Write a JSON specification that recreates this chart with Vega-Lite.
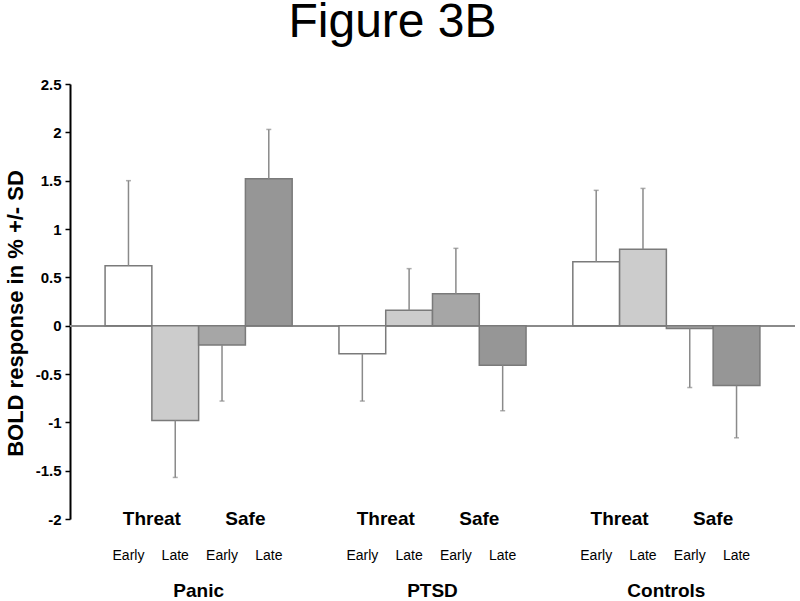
{
  "$schema": "https://vega.github.io/schema/vega-lite/v6.json",
  "autosize": {"type": "none"},
  "width": 725,
  "height": 435,
  "padding": {"left": 70, "top": 84, "right": 5, "bottom": 82},
  "background": "white",
  "config": {
    "view": {"stroke": null},
    "font": "Liberation Sans"
  },
  "title": {
    "text": "Figure 3B",
    "fontSize": 48,
    "font": "Liberation Sans",
    "fontWeight": "normal",
    "color": "black",
    "anchor": "middle",
    "frame": "group",
    "dx": -40,
    "offset": -8,
    "baseline": "alphabetic"
  },
  "datasets": {
    "bars": [
      {"group": "Panic", "cond": "Threat Early", "stim": "Threat", "phase": "Early", "value": 0.62, "errEnd": 1.5},
      {"group": "Panic", "cond": "Threat Late", "stim": "Threat", "phase": "Late", "value": -0.98, "errEnd": -1.57},
      {"group": "Panic", "cond": "Safe Early", "stim": "Safe", "phase": "Early", "value": -0.2, "errEnd": -0.78},
      {"group": "Panic", "cond": "Safe Late", "stim": "Safe", "phase": "Late", "value": 1.52, "errEnd": 2.03},
      {"group": "PTSD", "cond": "Threat Early", "stim": "Threat", "phase": "Early", "value": -0.29, "errEnd": -0.78},
      {"group": "PTSD", "cond": "Threat Late", "stim": "Threat", "phase": "Late", "value": 0.16, "errEnd": 0.59},
      {"group": "PTSD", "cond": "Safe Early", "stim": "Safe", "phase": "Early", "value": 0.33, "errEnd": 0.8},
      {"group": "PTSD", "cond": "Safe Late", "stim": "Safe", "phase": "Late", "value": -0.41, "errEnd": -0.88},
      {"group": "Controls", "cond": "Threat Early", "stim": "Threat", "phase": "Early", "value": 0.66, "errEnd": 1.4},
      {"group": "Controls", "cond": "Threat Late", "stim": "Threat", "phase": "Late", "value": 0.79, "errEnd": 1.42},
      {"group": "Controls", "cond": "Safe Early", "stim": "Safe", "phase": "Early", "value": -0.03, "errEnd": -0.64},
      {"group": "Controls", "cond": "Safe Late", "stim": "Safe", "phase": "Late", "value": -0.62, "errEnd": -1.16}
    ]
  },
  "data": {"name": "bars"},
  "encoding": {
    "x": {
      "field": "group", "type": "nominal",
      "sort": ["Panic", "PTSD", "Controls"],
      "scale": {"paddingInner": 0.2, "paddingOuter": 0.15},
      "axis": {
        "title": null, "domain": false, "ticks": false,
        "labelAngle": 0, "labelFontSize": 19, "labelFontWeight": "bold",
        "labelColor": "black", "labelPadding": 62, "labelFont": "Liberation Sans"
      }
    },
    "xOffset": {
      "field": "cond", "type": "nominal",
      "sort": ["Threat Early", "Threat Late", "Safe Early", "Safe Late"],
      "scale": {"paddingInner": 0, "paddingOuter": 0}
    }
  },
  "layer": [
    {
      "mark": {"type": "rule", "color": "#8a8a8a", "strokeWidth": 1.5},
      "encoding": {"x": null, "xOffset": null, "y": {"datum": 0, "type": "quantitative"}}
    },
    {
      "mark": {"type": "bar", "stroke": "#7a7a7a", "strokeWidth": 1.5},
      "encoding": {
        "y": {
          "field": "value", "type": "quantitative",
          "scale": {"domain": [-2, 2.5], "nice": false, "zero": false},
          "axis": {
            "title": "BOLD response in % +/- SD",
            "values": [-2, -1.5, -1, -0.5, 0, 0.5, 1, 1.5, 2, 2.5],
            "labelExpr": "'' + datum.value",
            "grid": false,
            "domainColor": "black", "domainWidth": 2,
            "tickColor": "black", "tickWidth": 1.5, "tickSize": 5,
            "labelFontSize": 15, "labelFontWeight": "bold", "labelColor": "black",
            "labelFont": "Liberation Sans", "labelPadding": 4,
            "titleFontSize": 22, "titleFontWeight": "bold", "titleColor": "black",
            "titleFont": "Liberation Sans", "titlePadding": 8, "titleY": 229
          }
        },
        "fill": {
          "field": "cond", "type": "nominal",
          "scale": {
            "domain": ["Threat Early", "Threat Late", "Safe Early", "Safe Late"],
            "range": ["#ffffff", "#cccccc", "#a6a6a6", "#969696"]
          },
          "legend": null
        }
      }
    },
    {
      "mark": {"type": "rule", "color": "#8a8a8a", "strokeWidth": 1.5},
      "encoding": {
        "y": {"field": "value", "type": "quantitative"},
        "y2": {"field": "errEnd"}
      }
    },
    {
      "mark": {"type": "tick", "color": "#8a8a8a", "size": 5, "thickness": 1.5},
      "encoding": {
        "y": {"field": "errEnd", "type": "quantitative"}
      }
    },
    {
      "mark": {"type": "text", "fontSize": 14, "color": "black", "dy": 37, "baseline": "middle", "font": "Liberation Sans"},
      "encoding": {
        "y": {"datum": -2, "type": "quantitative"},
        "text": {"field": "phase"}
      }
    },
    {
      "transform": [{"filter": "datum.phase === 'Early'"}],
      "mark": {"type": "text", "fontSize": 19, "fontWeight": "bold", "color": "black", "baseline": "middle", "dx": 23.4, "font": "Liberation Sans"},
      "encoding": {
        "y": {"datum": -2, "type": "quantitative"},
        "text": {"field": "stim"}
      }
    }
  ]
}
